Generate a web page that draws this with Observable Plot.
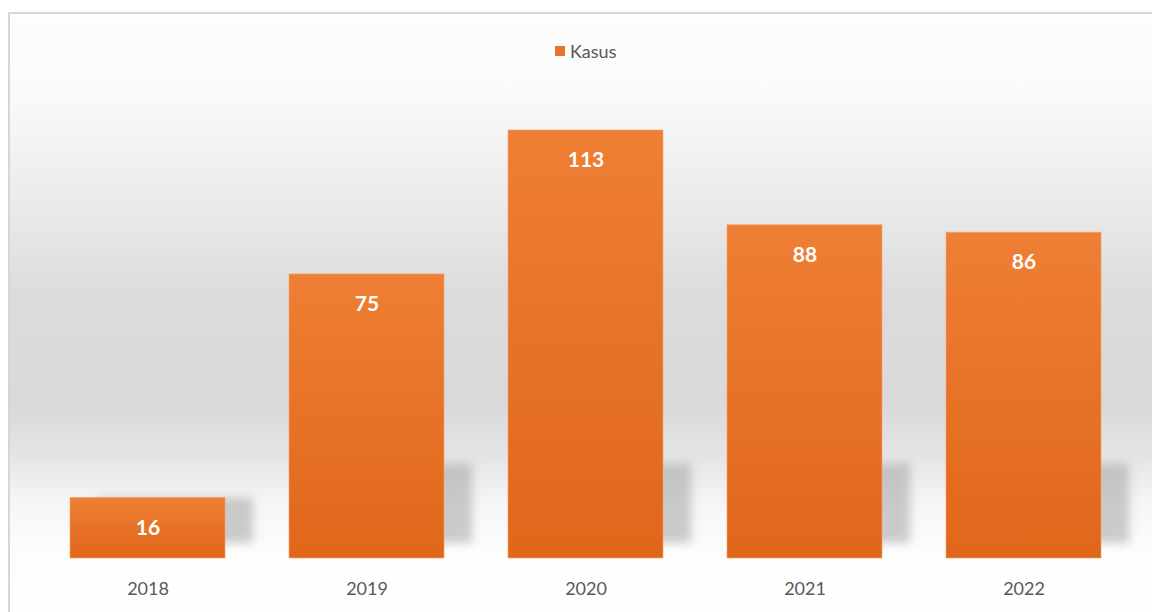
<!DOCTYPE html>
<html>
<head>
<meta charset="utf-8">
<script src="https://cdn.jsdelivr.net/npm/d3@7"></script>
<script src="https://cdn.jsdelivr.net/npm/@observablehq/plot@0.6"></script>
<style>
  html, body { margin: 0; padding: 0; background: #ffffff; }
  #wrap { position: relative; width: 1152px; height: 612px; overflow: hidden; font-family: Lato, "Open Sans", sans-serif; }
  #frame {
    position: absolute; left: 8px; top: 12px; width: 1160px; height: 620px;
    border: 2px solid #d6d6d6; box-sizing: border-box;
    background: linear-gradient(to bottom,
      #fdfdfd 0px, #fafafa 80px, #ececec 180px, #dcdcdc 280px, #d9d9d9 390px,
      #e4e4e4 440px, #f6f6f6 490px, #fdfdfd 540px, #ffffff 620px);
  }
  #chart { position: absolute; left: 0; top: 0; }
  #legend { position: absolute; left: 555px; top: 40px; font-size: 18px; color: #595959; display: flex; align-items: center; gap: 5px; }
  #legend .sw { width: 10px; height: 10px; background: #e8742a; display: inline-block; }
  .shadowblur { filter: blur(5px); }
</style>
</head>
<body>
<div id="wrap">
  <div id="frame"></div>
  <div id="chart"></div>
  <div id="legend"></div>
</div>
<script>
const years = ["2018", "2019", "2020", "2021", "2022"];
const kasus = [16, 75, 113, 88, 86];
const seriesName = "Kasus";

const data = years.map((year, i) => ({year, value: kasus[i]}));

const chart = Plot.plot({
  width: 1152,
  height: 612,
  marginLeft: 48,
  marginRight: 28,
  marginTop: 130,
  marginBottom: 54,
  style: {background: "transparent", fontFamily: "Lato, 'Open Sans', sans-serif", fontSize: "18px", color: "#595959"},
  x: {domain: years, paddingInner: 0.29, paddingOuter: 0.1, label: null, tickSize: 0, tickPadding: 24},
  y: {domain: [0, 113], axis: null},
  marks: [
    Plot.barY(data, {x: "year", y1: 4, y2: d => Math.min(d.value, 25), dx: 28, fill: "#9b9b9b", fillOpacity: 0.5}),
    Plot.barY(data, {x: "year", y: "value", fill: "url(#barGrad)", stroke: "#f5a46a", strokeWidth: 1, strokeOpacity: 0.6}),
    Plot.text(data, {x: "year", y: "value", text: d => String(d.value), dy: 30, fill: "white", fontWeight: "bold", fontSize: 21})
  ]
});

const svg = d3.select(chart);
const defs = svg.insert("defs", ":first-child");
const g = defs.append("linearGradient").attr("id", "barGrad").attr("x1", 0).attr("y1", 0).attr("x2", 0).attr("y2", 1);
g.append("stop").attr("offset", "0%").attr("stop-color", "#ee7f34");
g.append("stop").attr("offset", "100%").attr("stop-color", "#e0661a");
svg.selectAll("g").filter(function () { return this.getAttribute("fill") === "#9b9b9b"; })
  .attr("class", "shadowblur").style("filter", "blur(5px)");

document.getElementById("chart").appendChild(chart);

const legend = document.getElementById("legend");
legend.innerHTML = `<span class="sw"></span><span>${seriesName}</span>`;
</script>
</body>
</html>
